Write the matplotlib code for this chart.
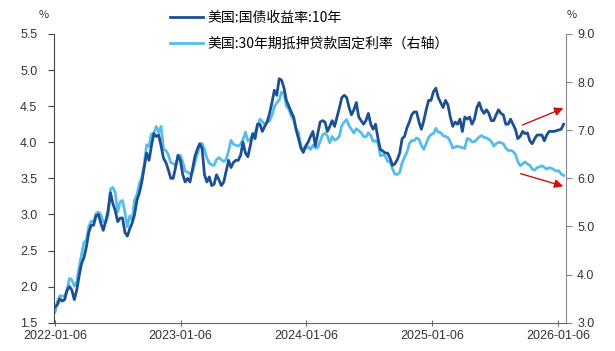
import pandas as pd
import matplotlib
matplotlib.use("Agg")
import matplotlib.pyplot as plt
import matplotlib.dates as mdates

plt.rcParams['font.family'] = ['Noto Sans CJK SC', 'DejaVu Sans']

# weekly data, thursdays from 2022-01-06
start_date = "2022-01-06"

# US 10y treasury yield (left axis), weekly
ust10y = [
    # 2022
    1.72, 1.75, 1.83, 1.80,
    1.82, 1.95, 2.00, 1.95,
    1.82, 1.95, 2.15, 2.32, 2.40,
    2.55, 2.75, 2.85, 2.85,
    2.98, 3.00, 2.88, 2.78,
    2.90, 3.05, 3.30, 3.15, 3.05,
    2.90, 2.95, 2.95, 2.75,
    2.70, 2.80, 2.88, 3.00,
    3.20, 3.30, 3.45, 3.65, 3.85,
    3.75, 3.95, 4.12, 4.08,
    4.10, 3.95, 3.78, 3.72,
    3.62, 3.50, 3.50, 3.65, 3.82,
    # 2023
    3.75, 3.55, 3.45, 3.50,
    3.45, 3.62, 3.80, 3.90,
    3.98, 3.92, 3.55, 3.45, 3.52,
    3.40, 3.42, 3.55, 3.48,
    3.40, 3.45, 3.60, 3.75,
    3.65, 3.72, 3.75, 3.75, 3.82,
    4.00, 3.85, 3.80, 3.95,
    4.12, 4.05, 4.25, 4.25, 4.15,
    4.22, 4.28, 4.40, 4.55,
    4.72, 4.65, 4.88, 4.86,
    4.75, 4.58, 4.50, 4.42, 4.35,
    4.18, 4.05, 3.92, 3.86,
    # 2024
    3.95, 4.00, 4.08, 4.15,
    3.95, 4.12, 4.28, 4.30, 4.28,
    4.15, 4.22, 4.30, 4.22,
    4.35, 4.48, 4.62, 4.65,
    4.62, 4.48, 4.38, 4.45, 4.55,
    4.35, 4.30, 4.25, 4.30,
    4.40, 4.25, 4.18, 4.25,
    4.05, 3.90, 3.88, 3.85, 3.85,
    3.78, 3.68, 3.70, 3.76,
    3.85, 4.05, 4.08, 4.20, 4.28,
    4.38, 4.42, 4.42, 4.28,
    4.18, 4.30, 4.45, 4.58,
    # 2025
    4.58, 4.70, 4.75, 4.62, 4.55,
    4.48, 4.58, 4.52, 4.35,
    4.22, 4.28, 4.25, 4.32,
    4.15, 4.35, 4.32, 4.35,
    4.25, 4.32, 4.48, 4.55, 4.45,
    4.40, 4.45, 4.40, 4.30,
    4.30, 4.38, 4.45, 4.40, 4.38,
    4.25, 4.25, 4.32, 4.25,
    4.18, 4.05, 4.08, 4.15,
    4.12, 4.13, 4.02, 3.98, 4.05,
    4.10, 4.10, 4.10, 4.02,
    4.10, 4.15, 4.15, 4.15,
    # 2026
    4.16, 4.17, 4.18, 4.25,
]

# US 30y fixed mortgage rate (right axis), weekly
mortgage30 = [
    # 2022
    3.22, 3.45, 3.56, 3.55,
    3.55, 3.69, 3.92, 3.89,
    3.76, 3.85, 4.16, 4.42, 4.67,
    4.72, 5.00, 5.11, 5.10,
    5.27, 5.30, 5.25, 5.10,
    5.09, 5.23, 5.78, 5.81, 5.70,
    5.30, 5.51, 5.54, 5.30,
    4.99, 5.22, 5.13, 5.55,
    5.66, 5.89, 6.02, 6.29, 6.70,
    6.66, 6.92, 6.94, 7.08,
    6.95, 7.08, 6.61, 6.58,
    6.49, 6.33, 6.31, 6.27, 6.42,
    # 2023
    6.48, 6.33, 6.15, 6.13,
    6.09, 6.12, 6.32, 6.50,
    6.65, 6.73, 6.60, 6.42, 6.32,
    6.28, 6.27, 6.39, 6.43,
    6.39, 6.35, 6.39, 6.57,
    6.79, 6.71, 6.69, 6.67, 6.71,
    6.81, 6.96, 6.78, 6.81,
    6.90, 6.96, 7.09, 7.23, 7.18,
    7.12, 7.18, 7.19, 7.31,
    7.49, 7.57, 7.63, 7.79,
    7.76, 7.50, 7.44, 7.29, 7.22,
    7.03, 6.95, 6.67, 6.61,
    # 2024
    6.62, 6.66, 6.60, 6.69,
    6.63, 6.64, 6.77, 6.90, 6.94,
    6.88, 6.74, 6.87, 6.79,
    6.82, 6.88, 7.10, 7.17,
    7.22, 7.09, 7.02, 6.94, 7.03,
    6.99, 6.95, 6.87, 6.86,
    6.95, 6.89, 6.77, 6.78,
    6.73, 6.47, 6.49, 6.46, 6.35,
    6.35, 6.20, 6.09, 6.08,
    6.12, 6.32, 6.44, 6.54, 6.72,
    6.79, 6.78, 6.84, 6.81,
    6.69, 6.60, 6.72, 6.85,
    # 2025
    6.91, 6.93, 7.04, 6.96, 6.95,
    6.89, 6.87, 6.85, 6.76,
    6.63, 6.65, 6.67, 6.65,
    6.64, 6.62, 6.83, 6.81,
    6.76, 6.76, 6.81, 6.86, 6.89,
    6.85, 6.84, 6.81, 6.77,
    6.67, 6.72, 6.75, 6.74, 6.72,
    6.63, 6.58, 6.58, 6.56,
    6.50, 6.35, 6.26, 6.30,
    6.34, 6.30, 6.27, 6.19, 6.17,
    6.22, 6.24, 6.26, 6.23,
    6.19, 6.22, 6.21, 6.18,
    # 2026
    6.15, 6.16, 6.09, 6.06,
]

label_10y = "美国:国债收益率:10年"
label_mtg = "美国:30年期抵押贷款固定利率（右轴）"
tick_dates = ["2022-01-06", "2023-01-06", "2024-01-06", "2025-01-06", "2026-01-06"]

dates = pd.date_range(start_date, periods=len(ust10y), freq="7D")

dark = "#1c4f94"
light = "#55bdea"
tick_font = dict(family="Liberation Sans", size=9, color="#333333")

fig = plt.figure(figsize=(6.15, 3.51), dpi=100)
ax = fig.add_axes([54 / 615, 1 - 322.7 / 351, 512 / 615, 288.7 / 351])
ax2 = ax.twinx()

l1, = ax.plot(dates, ust10y, color=dark, lw=2.0, zorder=3)
l2, = ax2.plot(dates, mortgage30, color=light, lw=2.0, zorder=2)
ax.set_zorder(ax2.get_zorder() + 1)
ax.patch.set_visible(False)

ax.set_ylim(1.5, 5.5)
ax2.set_ylim(3.0, 9.0)
ax.set_yticks([1.5, 2.0, 2.5, 3.0, 3.5, 4.0, 4.5, 5.0, 5.5])
ax2.set_yticks([3.0, 4.0, 5.0, 6.0, 7.0, 8.0, 9.0])
ax.yaxis.set_major_formatter(plt.FormatStrFormatter("%.1f"))
ax2.yaxis.set_major_formatter(plt.FormatStrFormatter("%.1f"))

ax.set_xlim(pd.Timestamp("2022-01-03"), pd.Timestamp("2026-01-29"))
ax.set_xticks(pd.to_datetime(tick_dates))
ax.xaxis.set_major_formatter(mdates.DateFormatter("%Y-%m-%d"))

for a in (ax, ax2):
    a.spines["top"].set_visible(False)
    for lab in a.get_xticklabels() + a.get_yticklabels():
        lab.set_fontproperties("Liberation Sans")
        lab.set_fontsize(9)
        lab.set_color("#333333")
ax2.spines["left"].set_visible(False)
ax2.spines["bottom"].set_visible(False)
ax.spines["right"].set_visible(False)
ax.spines["left"].set_color("#444444")
ax.spines["bottom"].set_color("#666666")
ax2.spines["right"].set_color("#888888")

ax.tick_params(axis="y", direction="out", length=4, pad=8, colors="#444444", labelcolor="#333333")
ax.tick_params(axis="x", direction="inout", length=5, pad=3, colors="#666666", labelcolor="#333333")
ax2.tick_params(axis="y", direction="out", length=4, pad=4, colors="#888888", labelcolor="#333333")

fig.text(44 / 615, 1 - 15 / 351, "%", fontsize=8, color="#333333", ha="center", va="center")
fig.text(572 / 615, 1 - 15 / 351, "%", fontsize=8, color="#333333", ha="center", va="center")

# red trend arrows at the right edge
arrow_kw = dict(arrowstyle="-|>", color="#cc1111", lw=1.0, mutation_scale=13)
ax.annotate("", xy=(1.0, 0.747), xytext=(0.910, 0.681), xycoords="axes fraction",
            textcoords="axes fraction", arrowprops=arrow_kw, annotation_clip=False)
ax.annotate("", xy=(1.0, 0.470), xytext=(0.906, 0.519), xycoords="axes fraction",
            textcoords="axes fraction", arrowprops=arrow_kw, annotation_clip=False)

fig.legend([l1, l2], [label_10y, label_mtg], loc="center left",
           bbox_to_anchor=(170 / 615, 1 - 30.5 / 351), frameon=False,
           fontsize=10, handlelength=2.4, handletextpad=0.3, labelspacing=0.85,
           borderpad=0, borderaxespad=0)

fig.savefig("out.png", dpi=100)
